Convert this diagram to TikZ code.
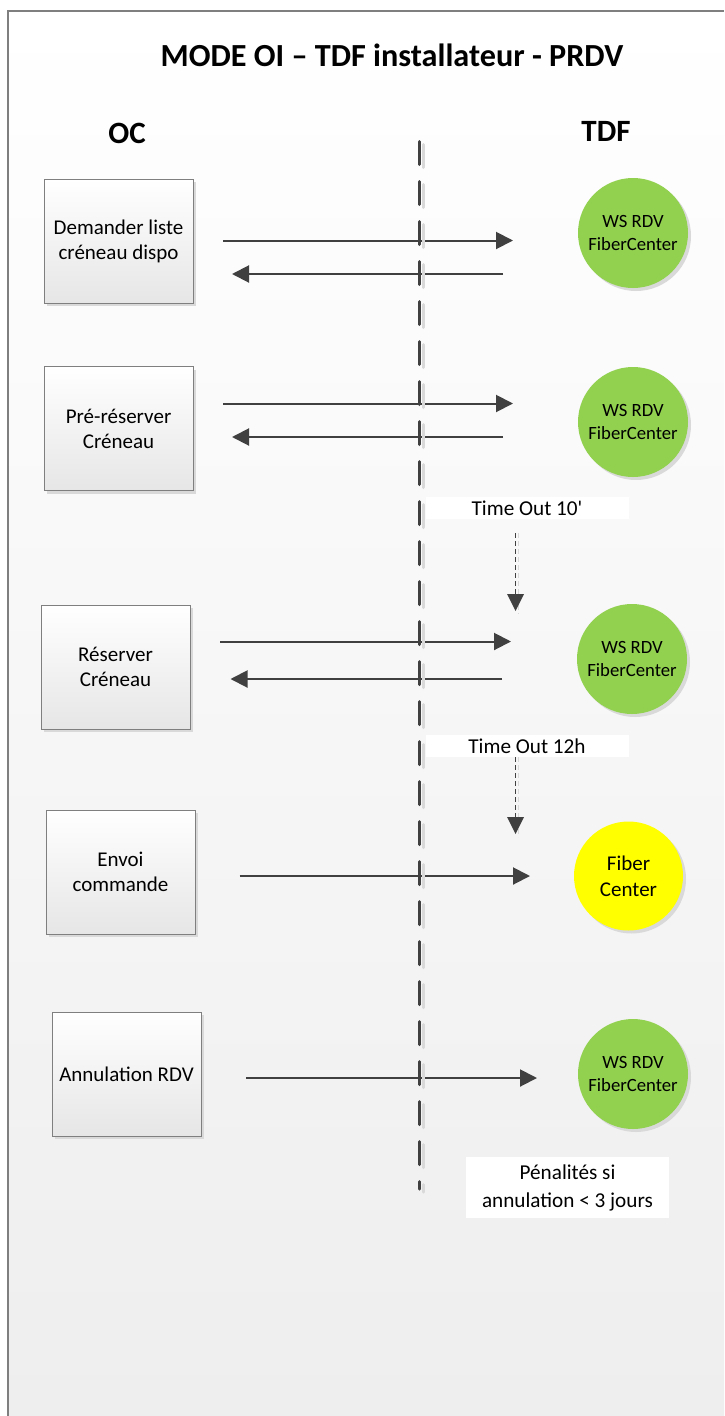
\documentclass[tikz,border=0pt]{standalone}
\usepackage{fontspec}
\setmainfont{Carlito}[Ligatures=TeXOff]
\usetikzlibrary{arrows.meta,shadows}
\definecolor{arr}{HTML}{404040}
\definecolor{wsgreen}{HTML}{92D050}
\definecolor{fcyellow}{HTML}{FFFF00}
\definecolor{framec}{HTML}{7F7F7F}
\definecolor{bgbot}{HTML}{EEEEEE}
\definecolor{boxbot}{HTML}{E6E6E6}
\definecolor{shad}{HTML}{D9D9D9}
\tikzset{
  titletext/.style={font=\fontsize{32.2}{37}\selectfont\bfseries, inner sep=0pt},
  headtext/.style={font=\fontsize{31}{36}\selectfont\bfseries, inner sep=0pt},
  actbox/.style={draw=framec, line width=0.8pt, top color=white, bottom color=boxbot,
    minimum width=149pt, minimum height=124pt, align=center,
    font=\fontsize{21}{25}\selectfont,
    drop shadow={shadow xshift=3pt, shadow yshift=-3pt, fill=shad, opacity=1}},
  wsnode/.style={circle, fill=wsgreen, minimum size=110pt, inner sep=0pt, align=center,
    font=\fontsize{18.7}{23}\selectfont,
    drop shadow={shadow xshift=3pt, shadow yshift=-3pt, fill=shad, opacity=1}},
  fcnode/.style={wsnode, fill=fcyellow, minimum size=109pt, font=\fontsize{21}{26}\selectfont},
  notelabel/.style={fill=white, minimum width=203pt, minimum height=22pt, inner sep=0pt,
    font=\fontsize{21.2}{25}\selectfont},
  msg/.style={draw=arr, line width=2pt, -{Triangle[length=17pt,width=17pt]}},
  tmo/.style={draw=arr, line width=1.5pt, dash pattern=on 5pt off 3pt,
    -{Triangle[length=17pt,width=17pt,line width=0pt]}},
  lifeline/.style={draw=arr, line width=3pt, line cap=round, dash pattern=on 23pt off 17pt},
  lifeshadow/.style={draw=shad, line width=3pt, line cap=round, dash pattern=on 23pt off 17pt},
}
\begin{document}
\begin{tikzpicture}[x=1pt,y=-1pt]
\useasboundingbox (0,0) rectangle (724,1416);
% background
\fill[top color=white, bottom color=bgbot] (8,11) rectangle (724,1416);
\draw[framec, line width=1.5pt] (8,1416) -- (8,11) -- (724,11);

% titles
\node[titletext] (title) at (392,55) {MODE OI – TDF installateur - PRDV};
\node[headtext] (oc) at (127,133) {OC};
\node[headtext] (tdf) at (606,131) {TDF};

% OC boxes
\node[actbox] (b1) at (118.5,241) {Demander liste\\créneau dispo};
\node[actbox] (b2) at (118.5,428.5) {Pré-réserver\\Créneau};
\node[actbox] (b3) at (115.5,667) {Réserver\\Créneau};
\node[actbox] (b4) at (120.5,872) {Envoi\\commande};
\node[actbox] (b5) at (126.5,1074) {Annulation RDV};

% TDF circles
\node[wsnode] (c1) at (633,233) {WS RDV\\FiberCenter};
\node[wsnode] (c2) at (633,422) {WS RDV\\FiberCenter};
\node[wsnode] (c3) at (632,659) {WS RDV\\FiberCenter};
\node[fcnode] (c4) at (628.5,876) {Fiber\\Center};
\node[wsnode] (c5) at (633,1074) {WS RDV\\FiberCenter};

% notes
\node[notelabel] (t10) at (527,508) {Time Out 10'};
\node[notelabel] (t12) at (527,746) {Time Out 12h};
\node[fill=white, minimum width=203pt, minimum height=61pt, align=center,
  font=\fontsize{21.2}{28}\selectfont] (pen) at (567.5,1187.5) {Pénalités si\\annulation < 3 jours};

% message endpoints
\coordinate (r1s) at (223,240.5); \coordinate (r1e) at (513,240.5);
\coordinate (l1s) at (503,274);   \coordinate (l1e) at (232,274);
\coordinate (r2s) at (223,403.5); \coordinate (r2e) at (513,403.5);
\coordinate (l2s) at (503,437);   \coordinate (l2e) at (232,437);
\coordinate (r3s) at (220,641.5); \coordinate (r3e) at (511,641.5);
\coordinate (l3s) at (502,679);   \coordinate (l3e) at (230.5,679);
\coordinate (r4s) at (239.5,876); \coordinate (r4e) at (530,876);
\coordinate (r5s) at (246,1078);  \coordinate (r5e) at (537,1078);
\coordinate (d1s) at (515.5,533); \coordinate (d1e) at (515.5,611);
\coordinate (d2s) at (515.5,757); \coordinate (d2e) at (515.5,834);

\foreach \a/\b in {r1s/r1e,l1s/l1e,r2s/r2e,l2s/l2e,r3s/r3e,l3s/l3e,r4s/r4e,r5s/r5e}
  \draw[msg] (\a) -- (\b);

% timeout arrows (with light shadow)
\draw[draw=shad, line width=1.5pt, dash pattern=on 5pt off 3pt] ([xshift=3pt]d1s) -- ([xshift=3pt,yshift=-3pt]d1e);
\draw[draw=shad, line width=1.5pt, dash pattern=on 5pt off 3pt] ([xshift=3pt]d2s) -- ([xshift=3pt,yshift=-3pt]d2e);
\draw[tmo] (d1s) -- (d1e);
\draw[tmo] (d2s) -- (d2e);

% lifeline
\coordinate (top) at (419.5,141.5);
\coordinate (bot) at (419.5,1189);
\draw[lifeshadow] ([xshift=3.5pt,yshift=-3pt]top) -- ([xshift=3.5pt,yshift=-3pt]bot);
\draw[lifeline] (top) -- (bot);
\end{tikzpicture}
\end{document}
